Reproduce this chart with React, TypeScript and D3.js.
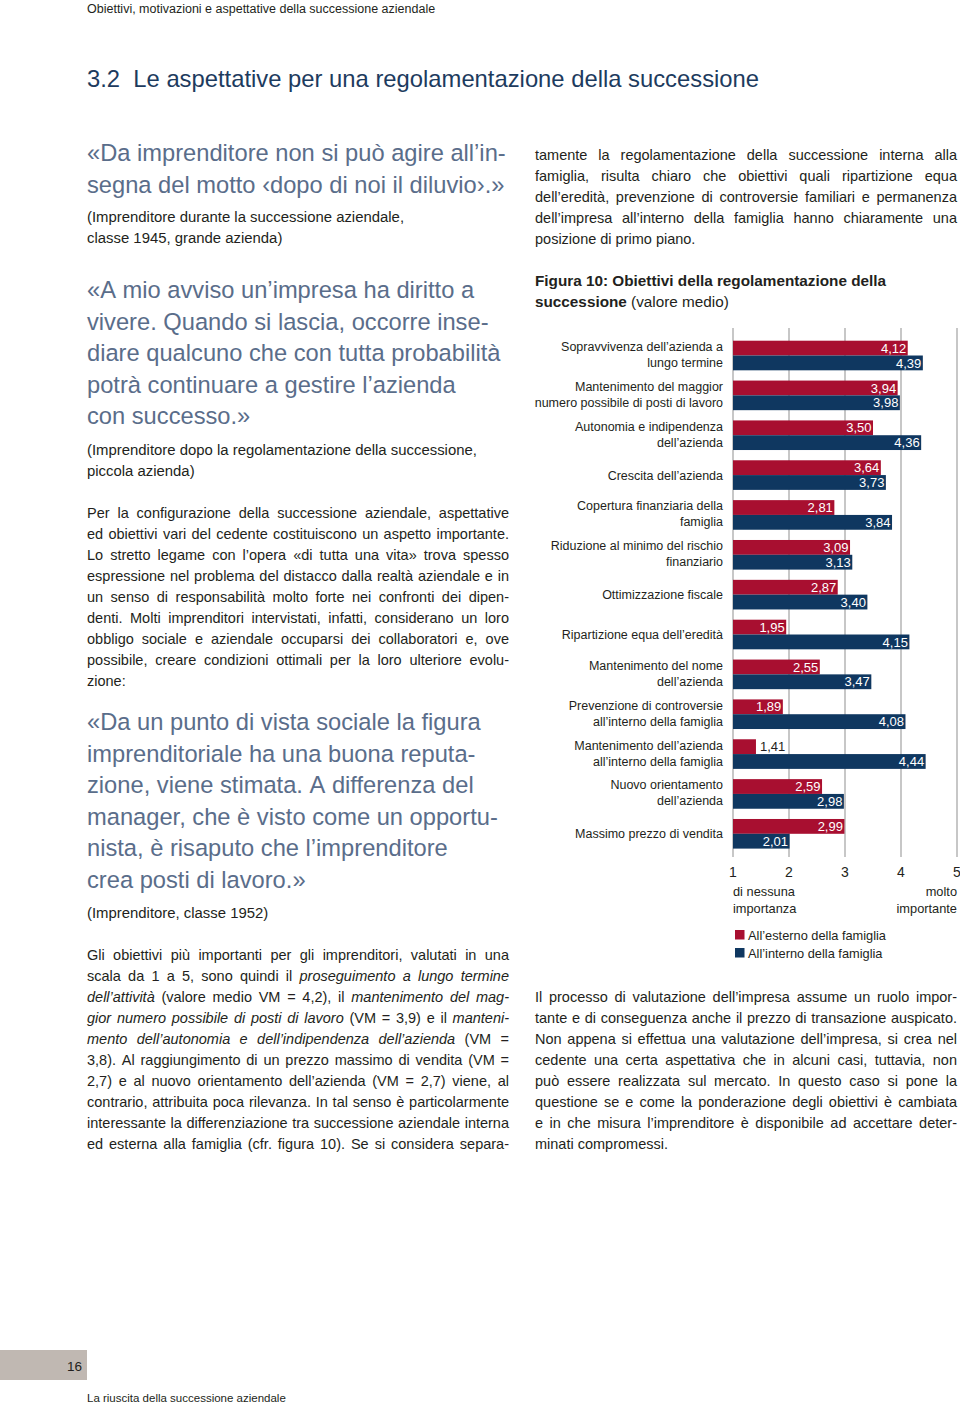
import React from "react";
import * as d3 from "d3";

// ---------- DATA ----------
const categories = [
  "Sopravvivenza dell’azienda a\nlungo termine",
  "Mantenimento del maggior\nnumero possibile di posti di lavoro",
  "Autonomia e indipendenza\ndell’azienda",
  "Crescita dell’azienda",
  "Copertura finanziaria della\nfamiglia",
  "Riduzione al minimo del rischio\nfinanziario",
  "Ottimizzazione fiscale",
  "Ripartizione equa dell’eredità",
  "Mantenimento del nome\ndell’azienda",
  "Prevenzione di controversie\nall’interno della famiglia",
  "Mantenimento dell’azienda\nall’interno della famiglia",
  "Nuovo orientamento\ndell’azienda",
  "Massimo prezzo di vendita",
];
const outsideFamily = [4.12, 3.94, 3.5, 3.64, 2.81, 3.09, 2.87, 1.95, 2.55, 1.89, 1.41, 2.59, 2.99];
const insideFamily = [4.39, 3.98, 4.36, 3.73, 3.84, 3.13, 3.4, 4.15, 3.47, 4.08, 4.44, 2.98, 2.01];
const seriesNames = ["All’esterno della famiglia", "All’interno della famiglia"];
const ticks = [1, 2, 3, 4, 5];
const axisLeftLabel = ["di nessuna", "importanza"];
const axisRightLabel = ["molto", "importante"];

const headerText = "Obiettivi, motivazioni e aspettative della successione aziendale";
const headingText = "3.2  Le aspettative per una regolamentazione della successione";
const quote1 = ["«Da imprenditore non si può agire all’in-", "segna del motto ‹dopo di noi il diluvio›.»"];
const attr1 = ["(Imprenditore durante la successione aziendale,", "classe 1945, grande azienda)"];
const quote2 = [
  "«A mio avviso un’impresa ha diritto a",
  "vivere. Quando si lascia, occorre inse-",
  "diare qualcuno che con tutta probabilità",
  "potrà continuare a gestire l’azienda",
  "con successo.»",
];
const attr2 = ["(Imprenditore dopo la regolamentazione della successione,", "piccola azienda)"];
const para1 = [
  "Per la configurazione della successione aziendale, aspettative",
  "ed obiettivi vari del cedente costituiscono un aspetto importante.",
  "Lo stretto legame con l’opera «di tutta una vita» trova spesso",
  "espressione nel problema del distacco dalla realtà aziendale e in",
  "un senso di responsabilità molto forte nei confronti dei dipen-",
  "denti. Molti imprenditori intervistati, infatti, considerano un loro",
  "obbligo sociale e aziendale occuparsi dei collaboratori e, ove",
  "possibile, creare condizioni ottimali per la loro ulteriore evolu-",
  "zione:",
];
const quote3 = [
  "«Da un punto di vista sociale la figura",
  "imprenditoriale ha una buona reputa-",
  "zione, viene stimata. A differenza del",
  "manager, che è visto come un opportu-",
  "nista, è risaputo che l’imprenditore",
  "crea posti di lavoro.»",
];
const attr3 = ["(Imprenditore, classe 1952)"];
const para2 = [
  "Gli obiettivi più importanti per gli imprenditori, valutati in una",
  "scala da 1 a 5, sono quindi il _proseguimento a lungo termine_",
  "_dell’attività_ (valore medio VM = 4,2), il _mantenimento del mag-_",
  "_gior numero possibile di posti di lavoro_ (VM = 3,9) e il _manteni-_",
  "_mento dell’autonomia e dell’indipendenza dell’azienda_ (VM =",
  "3,8). Al raggiungimento di un prezzo massimo di vendita (VM =",
  "2,7) e al nuovo orientamento dell’azienda (VM = 2,7) viene, al",
  "contrario, attribuita poca rilevanza. In tal senso è particolarmente",
  "interessante la differenziazione tra successione aziendale interna",
  "ed esterna alla famiglia (cfr. figura 10). Se si considera separa-",
];
const para3 = [
  "tamente la regolamentazione della successione interna alla",
  "famiglia, risulta chiaro che obiettivi quali ripartizione equa",
  "dell’eredità, prevenzione di controversie familiari e permanenza",
  "dell’impresa all’interno della famiglia hanno chiaramente una",
  "posizione di primo piano.",
];
const figTitle = ["*Figura 10: Obiettivi della regolamentazione della*", "*successione* (valore medio)"];
const para4 = [
  "Il processo di valutazione dell’impresa assume un ruolo impor-",
  "tante e di conseguenza anche il prezzo di transazione auspicato.",
  "Non appena si effettua una valutazione dell’impresa, si crea nel",
  "cedente una certa aspettativa che in alcuni casi, tuttavia, non",
  "può essere realizzata sul mercato. In questo caso si pone la",
  "questione se e come la ponderazione degli obiettivi è cambiata",
  "e in che misura l’imprenditore è disponibile ad accettare deter-",
  "minati compromessi.",
];
const pageNumber = "16";
const footerText = "La riuscita della successione aziendale";

// ---------- STYLE ----------
const FONT = "'Liberation Sans', Arial, Helvetica, sans-serif";
const RED = "#a80f30";
const BLUE = "#0f3760";
const QUOTE = "#5a6d8a";
const TEXT = "#231f20";

let ctx: CanvasRenderingContext2D | null = null;
function measure(t: string, size: number, italic: boolean, bold: boolean) {
  if (!ctx) ctx = document.createElement("canvas").getContext("2d");
  if (!ctx) return t.length * size * 0.5;
  ctx.font = `${italic ? "italic " : ""}${bold ? "bold " : ""}${size}px ${FONT}`;
  return ctx.measureText(t).width;
}

type Run = { t: string; i: boolean; b: boolean };

function parseWords(line: string, state: { i: boolean; b: boolean }) {
  const words: Run[][] = [];
  let cur: Run[] = [];
  let buf = "";
  const flush = () => {
    if (buf) cur.push({ t: buf, i: state.i, b: state.b });
    buf = "";
  };
  for (const ch of line) {
    if (ch === "_") { flush(); state.i = !state.i; }
    else if (ch === "*") { flush(); state.b = !state.b; }
    else if (ch === " ") { flush(); if (cur.length) words.push(cur); cur = []; }
    else buf += ch;
  }
  flush();
  if (cur.length) words.push(cur);
  return words;
}

function Para({ x, y, width, lh, lines, size, color, justifyLast = false, justify = true }: any) {
  const state = { i: false, b: false };
  return (
    <g fill={color} fontFamily={FONT} fontSize={size}>
      {lines.map((line: string, li: number) => {
        const words = parseWords(line, state);
        const ws = words.map((w) => w.reduce((s, r) => s + measure(r.t, size, r.i, r.b), 0));
        const total = ws.reduce((a, b) => a + b, 0);
        const doJ = justify && (li < lines.length - 1 || justifyLast) && words.length > 1;
        const gap = doJ ? (width - total) / (words.length - 1) : measure(" ", size, false, false);
        let cx = x;
        return (
          <text key={li} y={y + li * lh}>
            {words.map((w, wi) => {
              const px = cx;
              cx += ws[wi] + gap;
              return (
                <tspan key={wi} x={px}>
                  {w.map((r, ri) => (
                    <tspan key={ri} fontStyle={r.i ? "italic" : "normal"} fontWeight={r.b ? "bold" : "normal"}>
                      {r.t}
                    </tspan>
                  ))}
                </tspan>
              );
            })}
          </text>
        );
      })}
    </g>
  );
}

function Chart() {
  const x = d3.scaleLinear().domain([1, 5]).range([733, 957]);
  const y = d3.scaleBand<string>().domain(categories).range([340.7, 848.6]).paddingInner(0.257).paddingOuter(0);
  const sub = d3.scaleBand<number>().domain([0, 1]).range([0, y.bandwidth()]);
  const fmt = (v: number) => d3.format(".2f")(v).replace(".", ",");
  const series = [outsideFamily, insideFamily];
  const colors = [RED, BLUE];
  const gridTop = 328;
  const gridBottom = 857;
  const labelSize = 12.5;
  return (
    <g fontFamily={FONT}>
      {ticks.map((t) => (
        <line key={t} x1={x(t)} x2={x(t)} y1={gridTop} y2={gridBottom} stroke="#8f8f8f" strokeWidth={1} />
      ))}
      {categories.map((c, ci) => {
        const lines = c.split("\n");
        const cy = (y(c) as number) + y.bandwidth() / 2;
        return (
          <g key={c}>
            <text x={723} textAnchor="end" fontSize={labelSize} fill={TEXT}>
              {lines.map((l, li) => (
                <tspan key={li} x={723} y={cy + 4.5 + (li - (lines.length - 1) / 2) * 16 - (lines.length > 1 ? 1 : 0)}>
                  {l}
                </tspan>
              ))}
            </text>
            {series.map((s, si) => {
              const v = s[ci];
              const by = (y(c) as number) + (sub(si) as number);
              const bw = x(v) - x(1);
              const lab = fmt(v);
              const lw = measure(lab, 13, false, false);
              const inside = lw + 4 < bw;
              return (
                <g key={si}>
                  <rect x={x(1)} y={by} width={bw} height={sub.bandwidth()} fill={colors[si]} />
                  <text
                    x={inside ? x(v) - 1.5 : x(v) + 4}
                    y={by + sub.bandwidth() / 2 + 4.6}
                    textAnchor={inside ? "end" : "start"}
                    fontSize={13}
                    fill={inside ? "#ffffff" : TEXT}
                  >
                    {lab}
                  </text>
                </g>
              );
            })}
          </g>
        );
      })}
      {ticks.map((t) => (
        <text key={"t" + t} x={x(t)} y={877} textAnchor="middle" fontSize={14} fill={TEXT}>
          {t}
        </text>
      ))}
      {axisLeftLabel.map((l, i) => (
        <text key={"l" + i} x={x(1)} y={896 + i * 17} fontSize={12.8} fill={TEXT}>
          {l}
        </text>
      ))}
      {axisRightLabel.map((l, i) => (
        <text key={"r" + i} x={x(5)} y={896 + i * 17} textAnchor="end" fontSize={12.8} fill={TEXT}>
          {l}
        </text>
      ))}
      {seriesNames.map((n, i) => (
        <g key={n}>
          <rect x={735} y={930 + i * 18} width={9.5} height={9.5} fill={colors[i]} />
          <text x={748} y={939.5 + i * 18} fontSize={12.8} fill={TEXT}>
            {n}
          </text>
        </g>
      ))}
    </g>
  );
}

export default function App() {
  return (
    <svg
      width={960}
      height={1405}
      viewBox="0 0 960 1405"
      style={{ position: "absolute", left: 0, top: 0, background: "#ffffff" }}
    >
      <rect x={0} y={0} width={960} height={1405} fill="#ffffff" />
      <text x={87} y={12.5} fontFamily={FONT} fontSize={12.5} fill={TEXT}>
        {headerText}
      </text>
      <text x={87} y={87} fontFamily={FONT} fontSize={23.8} fill="#1d3b5e" xmlSpace="preserve" style={{ whiteSpace: "pre" }}>
        {headingText}
      </text>

      <Para x={87} y={161} width={422} lh={31.5} lines={quote1} size={23.7} color={QUOTE} justify={false} />
      <Para x={87} y={222} width={422} lh={21} lines={attr1} size={14.9} color={TEXT} justify={false} />
      <Para x={87} y={298} width={422} lh={31.6} lines={quote2} size={23.7} color={QUOTE} justify={false} />
      <Para x={87} y={455} width={422} lh={21} lines={attr2} size={14.9} color={TEXT} justify={false} />
      <Para x={87} y={518} width={422} lh={21} lines={para1} size={14.5} color={TEXT} />
      <Para x={87} y={730} width={422} lh={31.6} lines={quote3} size={23.7} color={QUOTE} justify={false} />
      <Para x={87} y={918} width={422} lh={21} lines={attr3} size={14.9} color={TEXT} justify={false} />
      <Para x={87} y={960} width={422} lh={21} lines={para2} size={14.5} color={TEXT} justifyLast={true} />

      <Para x={535} y={160} width={422} lh={21} lines={para3} size={14.5} color={TEXT} />
      <Para x={535} y={286} width={422} lh={21} lines={figTitle} size={15.3} color={TEXT} justify={false} />
      <Chart />
      <Para x={535} y={1002} width={422} lh={21} lines={para4} size={14.5} color={TEXT} />

      <rect x={0} y={1350} width={87} height={30} fill="#c0b8b2" />
      <text x={82} y={1371} textAnchor="end" fontFamily={FONT} fontSize={13.5} fill={TEXT}>
        {pageNumber}
      </text>
      <text x={87} y={1402} fontFamily={FONT} fontSize={11.5} fill={TEXT}>
        {footerText}
      </text>
    </svg>
  );
}
